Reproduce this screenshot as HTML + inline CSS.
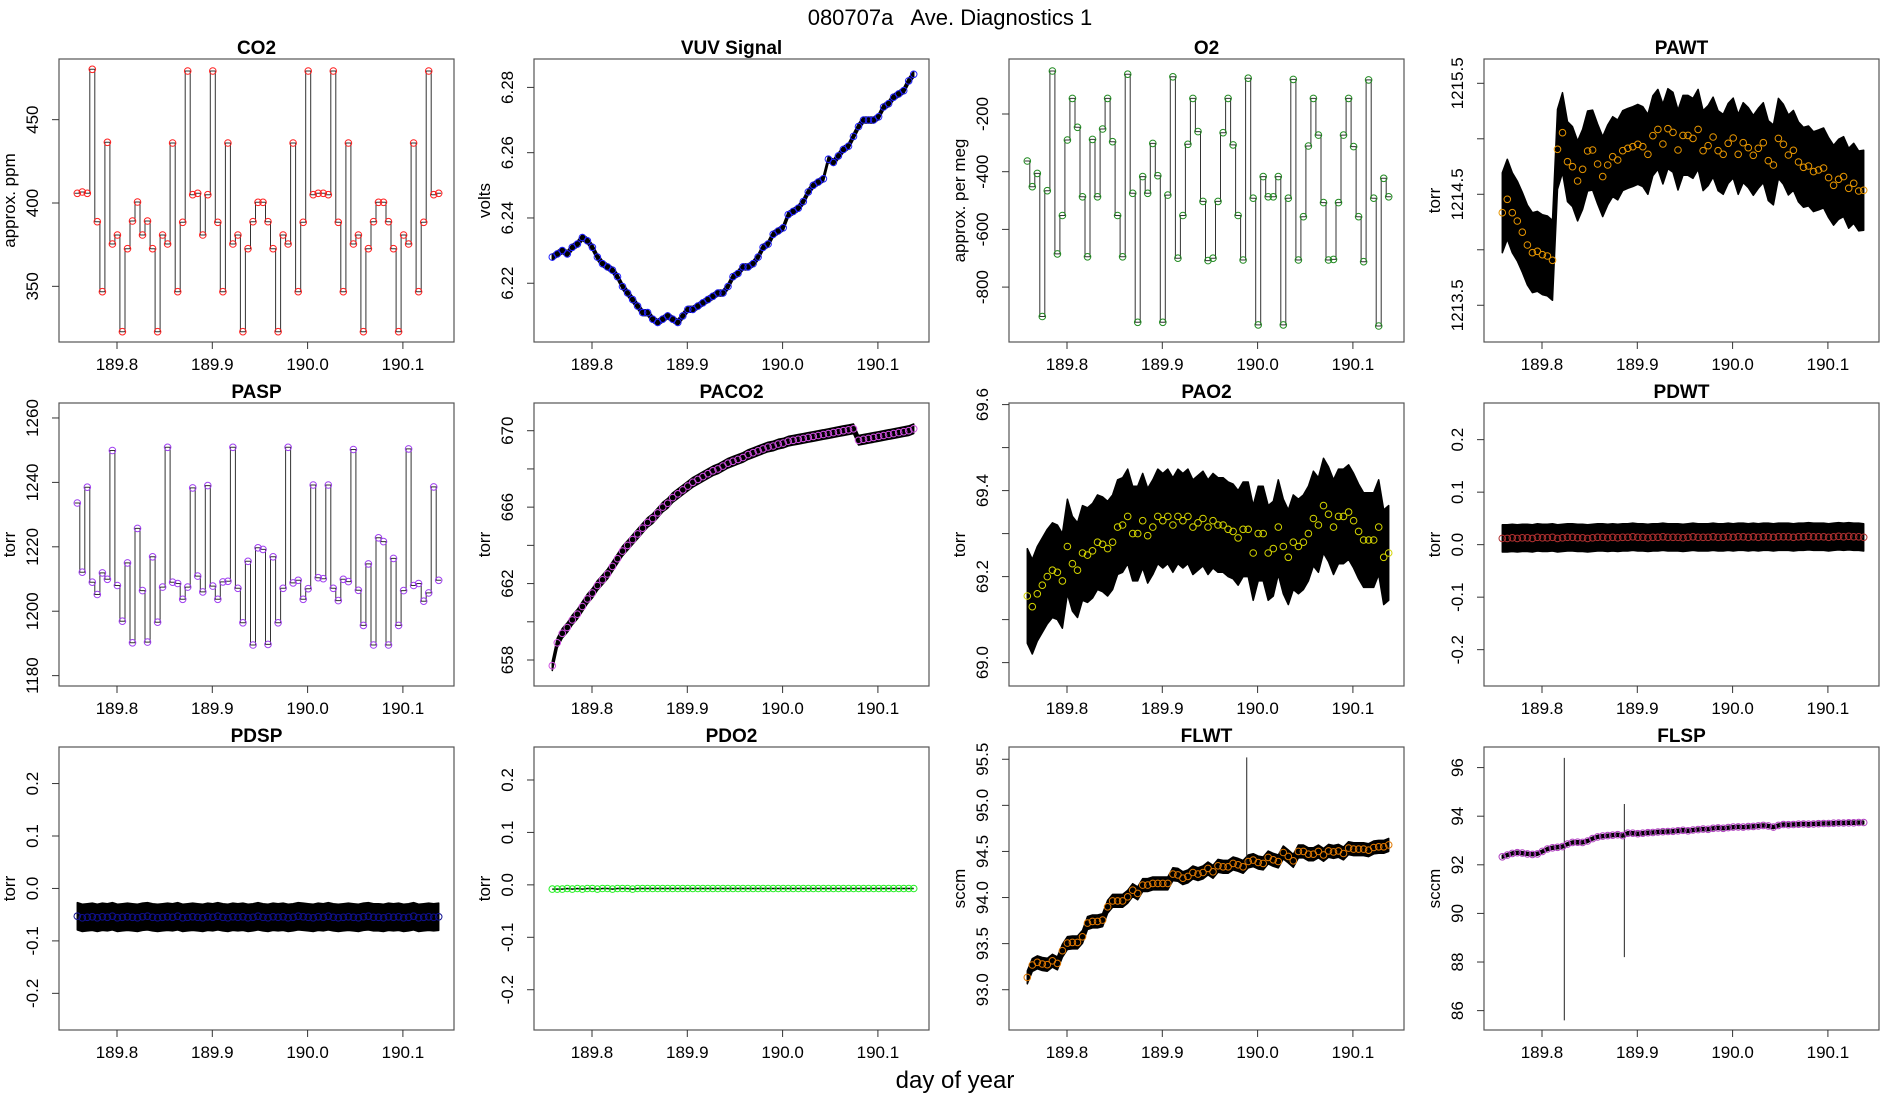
<!DOCTYPE html>
<html><head><meta charset="utf-8"><title>080707a Ave. Diagnostics 1</title>
<style>
html,body{margin:0;padding:0;background:#fff;}
svg{display:block;font-family:"Liberation Sans",Arial,sans-serif;}
</style></head>
<body>
<svg id="fig" width="1900" height="1100" viewBox="0 0 1900 1100" xmlns="http://www.w3.org/2000/svg">
<rect width="1900" height="1100" fill="#fff"/>
<text x="950" y="25" font-size="22" text-anchor="middle" xml:space="preserve">080707a   Ave. Diagnostics 1</text>
<text x="955" y="1088" font-size="24" text-anchor="middle">day of year</text>
</svg>
<script>
const T0 = 189.7583;
const DT = 0.005268;
const xTicks = [189.8, 189.9, 190.0, 190.1];
const xTickLabels = ["189.8", "189.9", "190.0", "190.1"];

const co2 = [405.8,406.6,405.8,480.2,388.8,346.8,436.4,375.4,380.8,322.8,372.6,389.2,400.6,380.8,389.2,372.6,322.8,380.8,375.4,436,346.8,388.4,479.2,405,405.8,380.8,405,479.2,388.4,346.8,436,375.4,380.8,322.8,372.6,388.8,400.4,400.4,388.8,372.6,322.8,380.8,375.4,436,346.8,388.4,479.2,405,405.8,405.8,405,479.2,388.4,346.8,436,375.4,380.8,322.8,372.6,388.8,400.4,400.4,388.8,372.6,322.8,380.8,375.4,436,346.8,388.4,479.2,405,405.8];
const vuv = [6.228,6.229,6.230,6.229,6.231,6.232,6.234,6.233,6.231,6.228,6.226,6.225,6.224,6.222,6.219,6.217,6.215,6.213,6.211,6.211,6.209,6.208,6.209,6.210,6.209,6.208,6.210,6.212,6.212,6.213,6.214,6.215,6.216,6.217,6.217,6.219,6.222,6.223,6.225,6.225,6.226,6.228,6.231,6.232,6.235,6.236,6.237,6.241,6.242,6.243,6.245,6.248,6.250,6.251,6.252,6.258,6.257,6.259,6.261,6.262,6.265,6.268,6.270,6.270,6.270,6.271,6.274,6.275,6.277,6.278,6.279,6.282,6.284];
const o2 = [-363,-452,-406,-902,-466,-51,-685,-552,-290,-146,-246,-487,-695,-288,-487,-252,-146,-296,-552,-695,-62,-475,-922,-417,-475,-302,-414,-922,-481,-71,-700,-552,-305,-146,-261,-503,-708,-700,-503,-265,-146,-307,-552,-706,-76,-492,-931,-417,-487,-487,-417,-931,-492,-80,-706,-556,-311,-146,-273,-507,-706,-704,-507,-273,-146,-313,-556,-712,-82,-492,-935,-423,-487];
const pawt = [1214.334,1214.455,1214.334,1214.259,1214.158,1214.043,1213.974,1213.986,1213.956,1213.944,1213.905,1214.905,1215.055,1214.794,1214.749,1214.62,1214.725,1214.89,1214.899,1214.773,1214.659,1214.764,1214.839,1214.809,1214.893,1214.914,1214.929,1214.95,1214.929,1214.86,1215.028,1215.085,1214.953,1215.091,1215.058,1214.899,1215.031,1215.031,1215.004,1215.085,1214.893,1214.938,1215.016,1214.893,1214.86,1214.959,1215.007,1214.86,1214.965,1214.92,1214.851,1214.914,1214.965,1214.803,1214.764,1215.004,1214.95,1214.854,1214.896,1214.791,1214.743,1214.755,1214.704,1214.719,1214.737,1214.65,1214.581,1214.635,1214.659,1214.554,1214.599,1214.53,1214.536];
const pasp = [1233.6,1212.1,1238.5,1209,1205.2,1211.9,1209.9,1249.9,1208,1196.9,1215,1190.2,1225.7,1206.4,1190.4,1216.9,1196.6,1207.5,1250.9,1209,1208.6,1203.7,1207.5,1238.3,1210.9,1206,1239,1207.8,1203.7,1209.1,1209.3,1250.9,1207.1,1196.4,1215.5,1189.5,1219.7,1219.2,1189.7,1216.9,1196.4,1207.1,1250.9,1208.8,1209.6,1203.7,1207,1239.2,1210.4,1210.1,1239.2,1207.1,1203.3,1209.9,1209.2,1250.2,1206.5,1195.6,1214.7,1189.5,1222.8,1221.6,1189.5,1216.4,1195.6,1206.4,1250.4,1208,1208.6,1203.1,1205.7,1238.6,1209.6];
const paco2 = [657.7,658.9,659.4,659.7,660.1,660.4,660.8,661.2,661.5,661.9,662.2,662.5,662.9,663.3,663.7,664.0,664.3,664.6,664.9,665.2,665.4,665.7,666.0,666.2,666.5,666.7,666.9,667.1,667.3,667.45,667.6,667.75,667.9,668.0,668.15,668.3,668.4,668.5,668.6,668.75,668.85,668.95,669.05,669.15,669.2,669.3,669.35,669.45,669.5,669.55,669.6,669.65,669.7,669.75,669.8,669.85,669.9,669.95,670.0,670.05,670.1,669.5,669.55,669.6,669.65,669.7,669.75,669.8,669.85,669.9,669.95,670.0,670.1];
const pao2 = [69.155,69.13,69.16,69.18,69.20,69.215,69.21,69.19,69.27,69.23,69.215,69.255,69.25,69.26,69.28,69.275,69.265,69.28,69.315,69.32,69.34,69.30,69.30,69.33,69.295,69.315,69.34,69.33,69.34,69.32,69.34,69.33,69.34,69.315,69.325,69.335,69.315,69.33,69.32,69.32,69.31,69.305,69.29,69.31,69.31,69.255,69.30,69.30,69.255,69.265,69.315,69.27,69.245,69.28,69.27,69.28,69.30,69.335,69.32,69.365,69.345,69.315,69.34,69.34,69.35,69.33,69.305,69.285,69.285,69.285,69.315,69.245,69.255];
const pdwt = [0.012,0.012,0.013,0.012,0.013,0.013,0.012,0.014,0.013,0.013,0.014,0.012,0.013,0.014,0.014,0.013,0.013,0.012,0.013,0.014,0.014,0.013,0.014,0.013,0.014,0.014,0.015,0.014,0.014,0.013,0.014,0.014,0.015,0.014,0.014,0.014,0.013,0.014,0.015,0.014,0.014,0.014,0.015,0.014,0.014,0.015,0.014,0.015,0.015,0.014,0.015,0.014,0.015,0.015,0.014,0.015,0.015,0.015,0.014,0.015,0.015,0.016,0.015,0.015,0.015,0.014,0.015,0.016,0.015,0.016,0.015,0.015,0.014];
const pdsp = [-0.053,-0.056,-0.055,-0.054,-0.056,-0.054,-0.055,-0.053,-0.056,-0.055,-0.054,-0.055,-0.056,-0.054,-0.053,-0.055,-0.056,-0.055,-0.054,-0.055,-0.053,-0.056,-0.055,-0.054,-0.055,-0.056,-0.054,-0.055,-0.053,-0.055,-0.056,-0.054,-0.055,-0.054,-0.056,-0.055,-0.053,-0.055,-0.056,-0.054,-0.055,-0.054,-0.056,-0.055,-0.053,-0.054,-0.055,-0.056,-0.054,-0.055,-0.053,-0.055,-0.056,-0.055,-0.054,-0.055,-0.056,-0.054,-0.053,-0.055,-0.055,-0.056,-0.054,-0.055,-0.054,-0.056,-0.055,-0.053,-0.056,-0.055,-0.054,-0.055,-0.054];
const pdo2 = [-0.008,-0.008,-0.008,-0.007,-0.008,-0.007,-0.008,-0.007,-0.007,-0.008,-0.007,-0.007,-0.008,-0.007,-0.007,-0.007,-0.008,-0.007,-0.007,-0.007,-0.007,-0.007,-0.007,-0.007,-0.007,-0.007,-0.007,-0.007,-0.007,-0.007,-0.007,-0.007,-0.007,-0.007,-0.007,-0.007,-0.007,-0.007,-0.007,-0.007,-0.007,-0.007,-0.007,-0.007,-0.007,-0.007,-0.007,-0.007,-0.007,-0.007,-0.007,-0.007,-0.007,-0.007,-0.007,-0.007,-0.007,-0.007,-0.007,-0.007,-0.007,-0.007,-0.007,-0.007,-0.007,-0.007,-0.007,-0.007,-0.007,-0.007,-0.007,-0.007,-0.007];
const flwt = [93.134,93.268,93.297,93.279,93.271,93.314,93.286,93.423,93.506,93.513,93.513,93.574,93.723,93.741,93.741,93.755,93.899,93.964,93.964,93.964,94.008,94.08,94.045,94.135,94.135,94.153,94.153,94.153,94.153,94.254,94.246,94.21,94.229,94.272,94.254,94.272,94.316,94.279,94.344,94.333,94.333,94.37,94.355,94.333,94.391,94.406,94.38,94.37,94.435,94.409,94.391,94.489,94.446,94.398,94.5,94.5,94.47,94.47,94.5,94.463,94.506,94.495,94.506,94.478,94.536,94.525,94.525,94.525,94.514,94.543,94.55,94.55,94.571];
const flsp = [92.33,92.4,92.47,92.5,92.48,92.45,92.43,92.45,92.55,92.65,92.7,92.72,92.75,92.85,92.92,92.93,92.92,92.98,93.08,93.15,93.18,93.2,93.22,93.24,93.2,93.3,93.3,93.28,93.3,93.32,93.33,93.35,93.36,93.37,93.38,93.4,93.42,93.4,93.43,93.45,93.47,93.46,93.5,93.52,93.5,93.53,93.55,93.56,93.55,93.57,93.58,93.6,93.62,93.6,93.55,93.62,93.66,93.65,93.66,93.67,93.68,93.67,93.68,93.69,93.7,93.7,93.71,93.72,93.72,93.73,93.73,93.74,93.74];

const flwtSpikeT = [189.9886];
const flwtSpikeLo = [94.35];
const flwtSpikeHi = [95.52];
const flspSpikeT = [189.8234, 189.8864];
const flspSpikeLo = [85.6, 88.2];
const flspSpikeHi = [96.4, 94.5];

const ROW_TOP = [59, 403, 747];
const BOX_W = 395, BOX_H = 283;

const NS = "http://www.w3.org/2000/svg";
const svg = document.getElementById("fig");
function mk(tag, attrs, parent) {
  const e = document.createElementNS(NS, tag);
  for (const k in attrs) e.setAttribute(k, attrs[k]);
  (parent || svg).appendChild(e);
  return e;
}

const panels = [
  {key:"co2", title:"CO2", ylab:"approx. ppm", col:0,row:0, ymin:316.6, ymax:486.4, ticks:[350,400,450], labels:["350","400","450"], data:co2, color:"#ff2020", mode:"step"},
  {key:"vuv", title:"VUV Signal", ylab:"volts", col:1,row:0, ymin:6.202, ymax:6.2887, ticks:[6.22,6.24,6.26,6.28], labels:["6.22","6.24","6.26","6.28"], data:vuv, color:"#2222ff", mode:"band", spread:0.0009},
  {key:"o2", title:"O2", ylab:"approx. per meg", col:2,row:0, ymin:-990.3, ymax:-9.4, ticks:[-800,-600,-400,-200], labels:["-800","-600","-400","-200"], data:o2, color:"#228b22", mode:"step"},
  {key:"pawt", title:"PAWT", ylab:"torr", col:3,row:0, ymin:1213.169, ymax:1215.719, ticks:[1213.5,1214,1214.5,1215,1215.5], labels:["1213.5","","1214.5","","1215.5"], data:pawt, color:"#e69500", mode:"band", spread:0.36},
  {key:"pasp", title:"PASP", ylab:"torr", col:0,row:1, ymin:1176.78, ymax:1264.65, ticks:[1180,1200,1220,1240,1260], labels:["1180","1200","1220","1240","1260"], data:pasp, color:"#a040f0", mode:"step"},
  {key:"paco2", title:"PACO2", ylab:"torr", col:1,row:1, ymin:656.64, ymax:671.45, ticks:[658,660,662,664,666,668,670], labels:["658","","662","","666","","670"], data:paco2, color:"#d050e0", mode:"band", spread:0.25},
  {key:"pao2", title:"PAO2", ylab:"torr", col:2,row:1, ymin:68.9456, ymax:69.6037, ticks:[69.0,69.1,69.2,69.3,69.4,69.5,69.6], labels:["69.0","","69.2","","69.4","","69.6"], data:pao2, color:"#d4d400", mode:"band", spread:0.11},
  {key:"pdwt", title:"PDWT", ylab:"torr", col:3,row:1, ymin:-0.2692, ymax:0.2698, ticks:[-0.2,-0.1,0,0.1,0.2], labels:["-0.2","-0.1","0.0","0.1","0.2"], data:pdwt, color:"#b03030", mode:"band", spread:0.026},
  {key:"pdsp", title:"PDSP", ylab:"torr", col:0,row:2, ymin:-0.2699, ymax:0.2697, ticks:[-0.2,-0.1,0,0.1,0.2], labels:["-0.2","-0.1","0.0","0.1","0.2"], data:pdsp, color:"#101090", mode:"band", spread:0.026},
  {key:"pdo2", title:"PDO2", ylab:"torr", col:1,row:2, ymin:-0.2768, ymax:0.2629, ticks:[-0.2,-0.1,0,0.1,0.2], labels:["-0.2","-0.1","0.0","0.1","0.2"], data:pdo2, color:"#22ee22", mode:"line"},
  {key:"flwt", title:"FLWT", ylab:"sccm", col:2,row:2, ymin:92.563, ymax:95.633, ticks:[93,93.5,94,94.5,95,95.5], labels:["93.0","93.5","94.0","94.5","95.0","95.5"], data:flwt, color:"#e07800", mode:"band", spread:0.07, spT:flwtSpikeT, spLo:flwtSpikeLo, spHi:flwtSpikeHi},
  {key:"flsp", title:"FLSP", ylab:"sccm", col:3,row:2, ymin:85.203, ymax:96.847, ticks:[86,88,90,92,94,96], labels:["86","88","90","92","94","96"], data:flsp, color:"#b040c0", mode:"band", spread:0.06, spT:flspSpikeT, spLo:flspSpikeLo, spHi:flspSpikeHi}
];

panels.forEach(p => {
  const left = p.col * 475 + 59;
  const top = ROW_TOP[p.row];
  const bottom = top + BOX_H;
  const xs = t => left + 58 + (t - 189.8) * 953;
  const ys = v => bottom - (v - p.ymin) / (p.ymax - p.ymin) * BOX_H;

  const g = mk("g", {});
  
  

  const clipId = "clip-" + p.key;
  const cp = mk("clipPath", {id: clipId}, g);
  mk("rect", {x: left, y: top, width: BOX_W, height: BOX_H}, cp);
  const plot = mk("g", {"clip-path": "url(#" + clipId + ")"}, g);
  
  

  const dx = DT * 953;
  if (p.mode === "step") {
    let d = "";
    p.data.forEach((v, i) => {
      const x = xs(T0 + i * DT);
      const y = ys(v).toFixed(1);
      if (i === 0) d += "M" + (x - dx / 2).toFixed(1) + "," + y;
      else d += "V" + y;
      d += "H" + (x + dx / 2).toFixed(1);
    });
    const path = mk("path", {d: d, fill: "none", stroke: "#333", "stroke-width": 1}, plot);
    
    
  } else if (p.mode === "band") {
    let up = [], lo = [];
    p.data.forEach((v, i) => {
      const x = xs(T0 + i * DT);
      up.push(x.toFixed(1) + "," + ys(v + p.spread).toFixed(1));
      lo.push(x.toFixed(1) + "," + ys(v - p.spread).toFixed(1));
    });
    const poly = mk("polygon", {points: up.concat(lo.reverse()).join(" "), fill: "#000", stroke: "#000", "stroke-width": 1.5, "stroke-linejoin": "round"}, plot);
    
    
  } else {
    const pts = p.data.map((v, i) => xs(T0 + i * DT).toFixed(1) + "," + ys(v).toFixed(1)).join(" ");
    const pl = mk("polyline", {points: pts, fill: "none", stroke: "#000", "stroke-width": 1.5}, plot);
    
    
  }
  if (p.spT) {
    p.spT.forEach((t, k) => {
      const ln = mk("line", {x1: xs(t), x2: xs(t), y1: ys(p.spLo[k]), y2: ys(p.spHi[k]), stroke: "#222", "stroke-width": 1}, plot);
      
      
    });
  }
  p.data.forEach((v, i) => {
    const c = mk("circle", {cx: xs(T0 + i * DT).toFixed(1), cy: ys(v).toFixed(1), r: 3.3, fill: "none", stroke: p.color, "stroke-width": 1}, plot);
    
    
  });

  const box = mk("rect", {x: left, y: top, width: BOX_W, height: BOX_H, fill: "none", stroke: "#555", "stroke-width": 1.2}, g);
  
  

  const ttl = mk("text", {x: left + BOX_W / 2, y: top - 5, "font-size": 19, "font-weight": "bold", "text-anchor": "middle"}, g);
  ttl.textContent = p.title;
  
  

  xTicks.forEach((t, k) => {
    const x = xs(t);
    const tk = mk("line", {x1: x, x2: x, y1: bottom, y2: bottom + 7, stroke: "#333", "stroke-width": 1}, g);
    
    
    const lb = mk("text", {x: x, y: bottom + 28, "font-size": 17, "text-anchor": "middle"}, g);
    lb.textContent = xTickLabels[k];
    
    
  });
  p.ticks.forEach((v, k) => {
    const y = ys(v);
    const tk = mk("line", {x1: left - 7, x2: left, y1: y, y2: y, stroke: "#333", "stroke-width": 1}, g);
    
    
    if (p.labels[k]) {
      const lb = mk("text", {x: left - 21, y: y, "font-size": 17, "text-anchor": "middle", transform: "rotate(-90 " + (left - 21) + " " + y + ")"}, g);
      lb.textContent = p.labels[k];
      
      
    }
  });
  const yl = mk("text", {x: left - 44, y: top + BOX_H / 2, "font-size": 17, "text-anchor": "middle", transform: "rotate(-90 " + (left - 44) + " " + (top + BOX_H / 2) + ")"}, g);
  yl.textContent = p.ylab;
  
  
});
</script>
</body></html>
